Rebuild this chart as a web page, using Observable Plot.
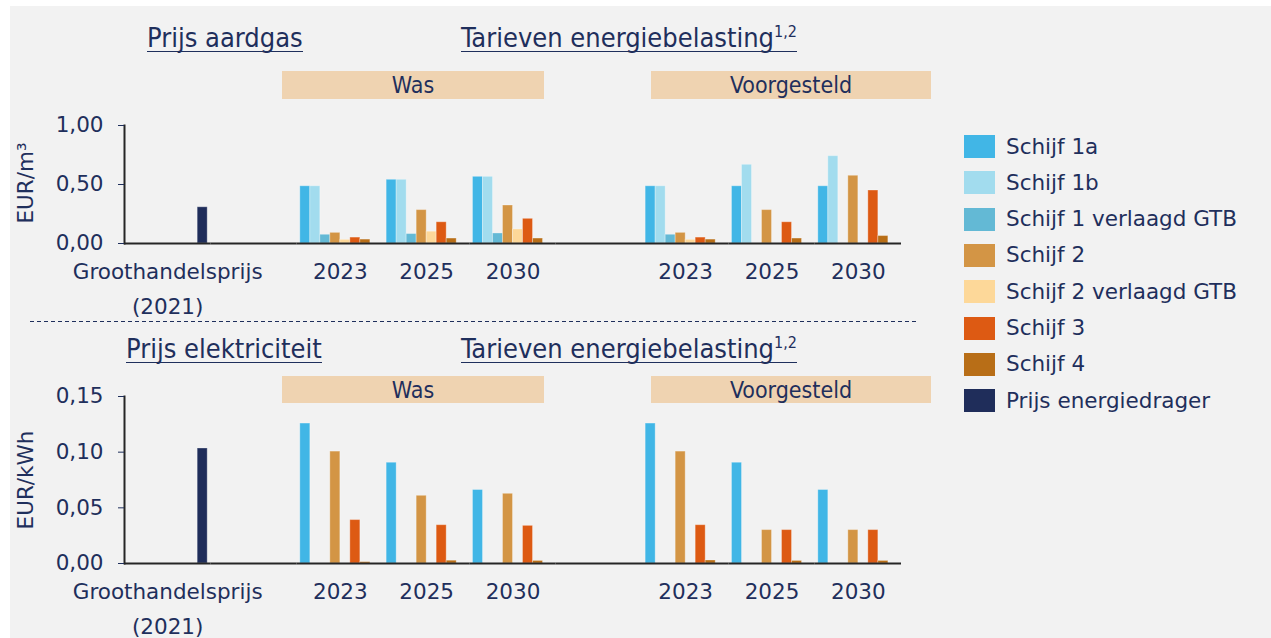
<!DOCTYPE html>
<html>
<head>
<meta charset="utf-8">
<script src="https://cdn.jsdelivr.net/npm/d3@7"></script>
<script src="https://cdn.jsdelivr.net/npm/@observablehq/plot@0.6"></script>
<style>
  html, body { margin: 0; padding: 0; }
  body { width: 1271px; height: 638px; position: relative; overflow: hidden; background: #ffffff;
         font-family: "DejaVu Sans", Verdana, sans-serif; color: #1f2f5c; }
  #bg { position: absolute; left: 10px; top: 6px; right: 0; bottom: 0; background: #f2f2f2; }
  .abs { position: absolute; }
  .hdr { position: absolute; font-family: "DejaVu Sans Condensed", "DejaVu Sans", sans-serif; font-stretch: condensed;
         font-size: 27px; line-height: 27px; white-space: nowrap; border-bottom: 1.5px solid #1f2f5c; }
  .hdr sup { font-size: 16px; vertical-align: 0; position: relative; top: -10px; line-height: 0; }
  .box { position: absolute; background: #efd3b1; font-family: "DejaVu Sans Condensed", "DejaVu Sans", sans-serif;
         font-stretch: condensed; font-size: 23px; display: flex; align-items: center; justify-content: center; }
  .ytitle { position: absolute; font-size: 21.5px; white-space: nowrap; transform: translate(-50%, -50%) rotate(-90deg); }
  #legend { position: absolute; left: 964px; top: 135px; }
  .lrow { position: absolute; left: 0; height: 23px; white-space: nowrap; font-size: 21.5px; }
  .lsw { position: absolute; left: 0; top: 0; width: 31px; height: 23px; }
  .ltx { position: absolute; left: 42px; top: 50%; transform: translateY(-50%); line-height: 1; }
  .chart { position: absolute; left: 0; }
</style>
</head>
<body>
<div id="bg"></div>

<div class="hdr" style="left:147px; top:24px;">Prijs aardgas</div>
<div class="hdr" style="left:461px; top:24px;">Tarieven energiebelasting<sup>1,2</sup></div>
<div class="box" style="left:282px; top:71px; width:262px; height:28px;">Was</div>
<div class="box" style="left:651px; top:71px; width:280px; height:28px;">Voorgesteld</div>

<div class="hdr" style="left:126px; top:335px;">Prijs elektriciteit</div>
<div class="hdr" style="left:461px; top:335px;">Tarieven energiebelasting<sup>1,2</sup></div>
<div class="box" style="left:282px; top:376px; width:262px; height:27px;">Was</div>
<div class="box" style="left:651px; top:376px; width:280px; height:27px;">Voorgesteld</div>

<div class="ytitle" style="left:25px; top:183px;">EUR/m³</div>
<div class="ytitle" style="left:25px; top:480px;">EUR/kWh</div>

<svg class="abs" style="left:30px; top:320px;" width="890" height="3">
  <line x1="0" x2="886" y1="1.5" y2="1.5" stroke="#1f2f5c" stroke-width="1" stroke-dasharray="4 3"></line>
</svg>

<div id="top" class="chart" style="top:0px;"></div>
<div id="bottom" class="chart" style="top:322px;"></div>
<div id="legend"></div>

<script>
// ---------- data ----------
const series = ["Schijf 1a", "Schijf 1b", "Schijf 1 verlaagd GTB", "Schijf 2",
                "Schijf 2 verlaagd GTB", "Schijf 3", "Schijf 4", "Prijs energiedrager"];
const seriesColors = ["#41b6e6", "#a2dcee", "#63b9d5", "#d39545", "#fdd899", "#dd5a13", "#b86e17", "#1f2d5a"];

const categories = ["Groothandelsprijs (2021)", "leeg1", "Was 2023", "Was 2025", "Was 2030",
                    "leeg2", "Voorgesteld 2023", "Voorgesteld 2025", "Voorgesteld 2030"];
const categoryLabels = ["Groothandelsprijs\n(2021)", "", "2023", "2025", "2030", "", "2023", "2025", "2030"];

const gasTicks = [0, 0.5, 1.0];
const elecTicks = [0, 0.05, 0.10, 0.15];

// aardgas, EUR/m3 (one value per category, null = geen staaf)
const gasSchijf1a    = [null, null, 0.485, 0.54, 0.565, null, 0.485, 0.485, 0.485];
const gasSchijf1b    = [null, null, 0.485, 0.54, 0.565, null, 0.485, 0.667, 0.74];
const gasSchijf1GTB  = [null, null, 0.074, 0.080, 0.085, null, 0.074, null, null];
const gasSchijf2     = [null, null, 0.090, 0.283, 0.322, null, 0.090, 0.283, 0.574];
const gasSchijf2GTB  = [null, null, 0.031, 0.100, 0.119, null, 0.031, null, null];
const gasSchijf3     = [null, null, 0.050, 0.180, 0.209, null, 0.050, 0.180, 0.449];
const gasSchijf4     = [null, null, 0.033, 0.042, 0.042, null, 0.033, 0.042, 0.063];
const gasPrijs       = [0.307, null, null, null, null, null, null, null, null];

// elektriciteit, EUR/kWh
const elSchijf1a   = [null, null, 0.1257, 0.0905, 0.0660, null, 0.1257, 0.0905, 0.0660];
const elSchijf1b   = [null, null, null, null, null, null, null, null, null];
const elSchijf1GTB = [null, null, null, null, null, null, null, null, null];
const elSchijf2    = [null, null, 0.1005, 0.0608, 0.0626, null, 0.1005, 0.0300, 0.0300];
const elSchijf2GTB = [null, null, null, null, null, null, null, null, null];
const elSchijf3    = [null, null, 0.0390, 0.0344, 0.0338, null, 0.0344, 0.0300, 0.0300];
const elSchijf4    = [null, null, 0.0012, 0.0025, 0.0023, null, 0.0027, 0.0023, 0.0023];
const elPrijs      = [0.1033, null, null, null, null, null, null, null, null];

const gasValues = [gasSchijf1a, gasSchijf1b, gasSchijf1GTB, gasSchijf2, gasSchijf2GTB, gasSchijf3, gasSchijf4, gasPrijs];
const elValues  = [elSchijf1a, elSchijf1b, elSchijf1GTB, elSchijf2, elSchijf2GTB, elSchijf3, elSchijf4, elPrijs];

// ---------- build ----------
const navy = "#1f2f5c";
const axisColor = "#262626";

function toRows(values) {
  const rows = [];
  series.forEach((s, si) => values[si].forEach((v, ci) => {
    if (v != null) rows.push({cat: categories[ci], series: s, value: v});
  }));
  return rows;
}
const fmt = d => d.toFixed(2).replace(".", ",");

function makeChart(values, ticks, yMax, height, marginTop, marginBottom) {
  return Plot.plot({
    width: 940, height, marginTop, marginBottom, marginLeft: 124, marginRight: 39,
    style: {background: "transparent", fontFamily: "DejaVu Sans, Verdana, sans-serif", fontSize: "21.5px", color: navy, overflow: "visible"},
    fx: {domain: categories, padding: 0, axis: null, round: false},
    x: {domain: series, paddingInner: 0, paddingOuter: 0.315, axis: null, round: false},
    y: {domain: [0, yMax], axis: null},
    color: {domain: series, range: seriesColors},
    marks: [
      Plot.barY(toRows(values), {fx: "cat", x: "series", y: "value", fill: "series",
                                 stroke: "#ffffff", strokeOpacity: 0.3, strokeWidth: 1}),
      Plot.ruleY([0], {stroke: axisColor, strokeWidth: 2}),
      Plot.frame({anchor: "left", facetAnchor: "left", stroke: axisColor, strokeWidth: 2}),
      Plot.axisY({ticks, tickSize: 6, tickPadding: 15, tickFormat: fmt, fontSize: 21.5,
                  label: null, color: navy}),
      Plot.text(categories, {fx: d => d, text: (d, i) => categoryLabels[i], frameAnchor: "bottom",
                             lineAnchor: "top", dy: 11, lineHeight: 1.63, fontSize: 21.5, fill: navy})
    ]
  });
}

document.getElementById("top").append(makeChart(gasValues, gasTicks, 1.0, 320, 125, 77));
document.getElementById("bottom").append(makeChart(elValues, elecTicks, 0.15, 316, 74, 75));

// legend
const legend = document.getElementById("legend");
series.forEach((s, i) => {
  const row = document.createElement("div");
  row.className = "lrow";
  row.style.top = (i * 36.3) + "px";
  row.innerHTML = `<div class="lsw" style="background:${seriesColors[i]}"></div><div class="ltx">${s}</div>`;
  legend.append(row);
});
</script>
</body>
</html>
